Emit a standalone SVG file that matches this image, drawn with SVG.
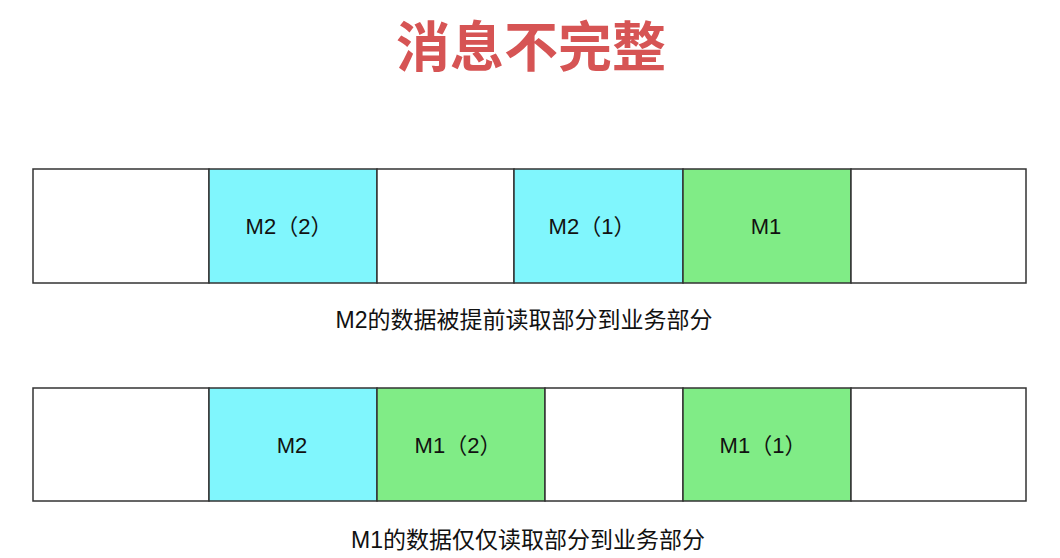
<svg xmlns="http://www.w3.org/2000/svg" width="1060" height="558" viewBox="0 0 1060 558">
<style>
.cell{stroke:#333;stroke-width:1.5}
.w{fill:#ffffff}
.c{fill:#80f6fd}
.g{fill:#80ec86}
.lbl{font-family:"Liberation Sans","Noto Sans CJK SC",sans-serif;font-size:22px;fill:#111;text-anchor:middle}
.cap{font-family:"Liberation Sans","Noto Sans CJK SC",sans-serif;font-size:23px;fill:#111;text-anchor:middle}
.title{font-family:"Noto Sans CJK SC",sans-serif;font-weight:bold;font-size:54px;fill:#d65454;text-anchor:middle}
</style>
<rect width="1060" height="558" fill="#ffffff"/>
<text class="title" x="531" y="67">消息不完整</text>
<g id="row1">
  <g id="r1c1"><rect class="cell w" x="33" y="169" width="176" height="114"/></g>
  <g id="r1c2"><rect class="cell c" x="209" y="169" width="168" height="114"/><text class="lbl" x="289" y="234">M2（2）</text></g>
  <g id="r1c3"><rect class="cell w" x="377" y="169" width="137" height="114"/></g>
  <g id="r1c4"><rect class="cell c" x="514" y="169" width="169" height="114"/><text class="lbl" x="592" y="234">M2（1）</text></g>
  <g id="r1c5"><rect class="cell g" x="683" y="169" width="168" height="114"/><text class="lbl" x="766" y="234">M1</text></g>
  <g id="r1c6"><rect class="cell w" x="851" y="169" width="175" height="114"/></g>
</g>
<text class="cap" x="524" y="328">M2的数据被提前读取部分到业务部分</text>
<g id="row2">
  <g id="r2c1"><rect class="cell w" x="33" y="388" width="176" height="113"/></g>
  <g id="r2c2"><rect class="cell c" x="209" y="388" width="168" height="113"/><text class="lbl" x="292" y="453">M2</text></g>
  <g id="r2c3"><rect class="cell g" x="377" y="388" width="168" height="113"/><text class="lbl" x="458" y="453">M1（2）</text></g>
  <g id="r2c4"><rect class="cell w" x="545" y="388" width="138" height="113"/></g>
  <g id="r2c5"><rect class="cell g" x="683" y="388" width="168" height="113"/><text class="lbl" x="763" y="453">M1（1）</text></g>
  <g id="r2c6"><rect class="cell w" x="851" y="388" width="175" height="113"/></g>
</g>
<text class="cap" x="528" y="548">M1的数据仅仅读取部分到业务部分</text>
<g id="connectors"></g>
</svg>
